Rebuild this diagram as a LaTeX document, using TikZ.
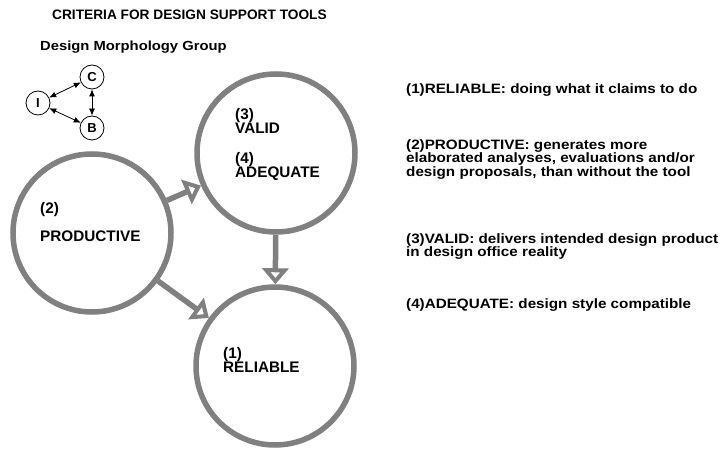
\documentclass[tikz,border=0pt]{standalone}
\usepackage{fontspec}
\setmainfont{Liberation Sans}
\newfontfamily\widesans[FakeStretch=1.12]{Liberation Sans}
\usepackage{xcolor}
\usetikzlibrary{arrows.meta}
\definecolor{ringgray}{RGB}{128,128,128}
\tikzstyle{ring} = [circle, draw=ringgray, line width=5.5pt, minimum size=158pt, inner sep=0pt]
\tikzstyle{tinyring} = [circle, draw=black, line width=0.8pt, minimum size=24pt, inner sep=0pt, font=\bfseries\fontsize{13}{13}\selectfont]
\tikzstyle{bigarrow} = [draw=ringgray, line width=5.5pt, -{Triangle[open, length=16pt, width=26pt]}]
\tikzstyle{smallarrow} = [draw=black, line width=0.8pt, {Latex[length=7pt, width=6pt]}-{Latex[length=7pt, width=6pt]}]
\tikzstyle{ringtext} = [anchor=north west, align=left, inner sep=0pt, font=\bfseries\fontsize{15.3}{14.3}\selectfont]
\tikzstyle{notetext} = [anchor=north west, align=left, inner sep=0pt, font=\widesans\bfseries\fontsize{13.6}{13.7}\selectfont]

\begin{document}
\begin{tikzpicture}[x=1pt, y=1pt]
      \useasboundingbox (0,0) rectangle (725,450);

      % Headings
      \node (title) [anchor=north west, inner sep=0pt, font=\bfseries\fontsize{13.7}{14}\selectfont] at (52,440) {CRITERIA FOR DESIGN SUPPORT TOOLS};
      \node (group) [anchor=north west, inner sep=0pt, font=\widesans\bfseries\fontsize{13.2}{14}\selectfont] at (40,409) {Design Morphology Group};

      % Group logo
      \node (inode) [tinyring] at (38,347) {I};
      \node (cnode) [tinyring] at (92,373) {C};
      \node (bnode) [tinyring] at (92,322) {B};

      % Rings
      \node (prod) [ring] at (92,217) {};
      \node (valid) [ring] at (276,297) {};
      \node (reliable) [ring] at (275,84) {};

      \node (prodlabel) [ringtext] at (40,248) {(2)\\[13.5pt]PRODUCTIVE};
      \node (validlabel) [ringtext] at (235,342) {(3)\\VALID\\[15.7pt](4)\\ADEQUATE};
      \node (rellabel) [ringtext] at (223,103) {(1)\\RELIABLE};

      % Definitions
      \node (defrel) [notetext] at (406,366.5) {(1)RELIABLE: doing what it claims to do};
      \node (defprod) [notetext] at (406,311) {(2)PRODUCTIVE: generates more\\elaborated analyses, evaluations and/or\\design proposals, than without the tool};
      \node (defvalid) [notetext] at (406,217) {(3)VALID: delivers intended design product\\in design office reality};
      \node (defadeq) [notetext] at (406,151.5) {(4)ADEQUATE: design style compatible};

      % Arrows
      \draw [smallarrow] (inode) -- (cnode);
      \draw [smallarrow] (inode) -- (bnode);
      \draw [smallarrow] (cnode) -- (bnode);
      \draw [bigarrow] (prod) -- (valid);
      \draw [bigarrow] (prod) -- (reliable);
      \draw [bigarrow] (valid) -- (reliable);

\end{tikzpicture}
\end{document}
